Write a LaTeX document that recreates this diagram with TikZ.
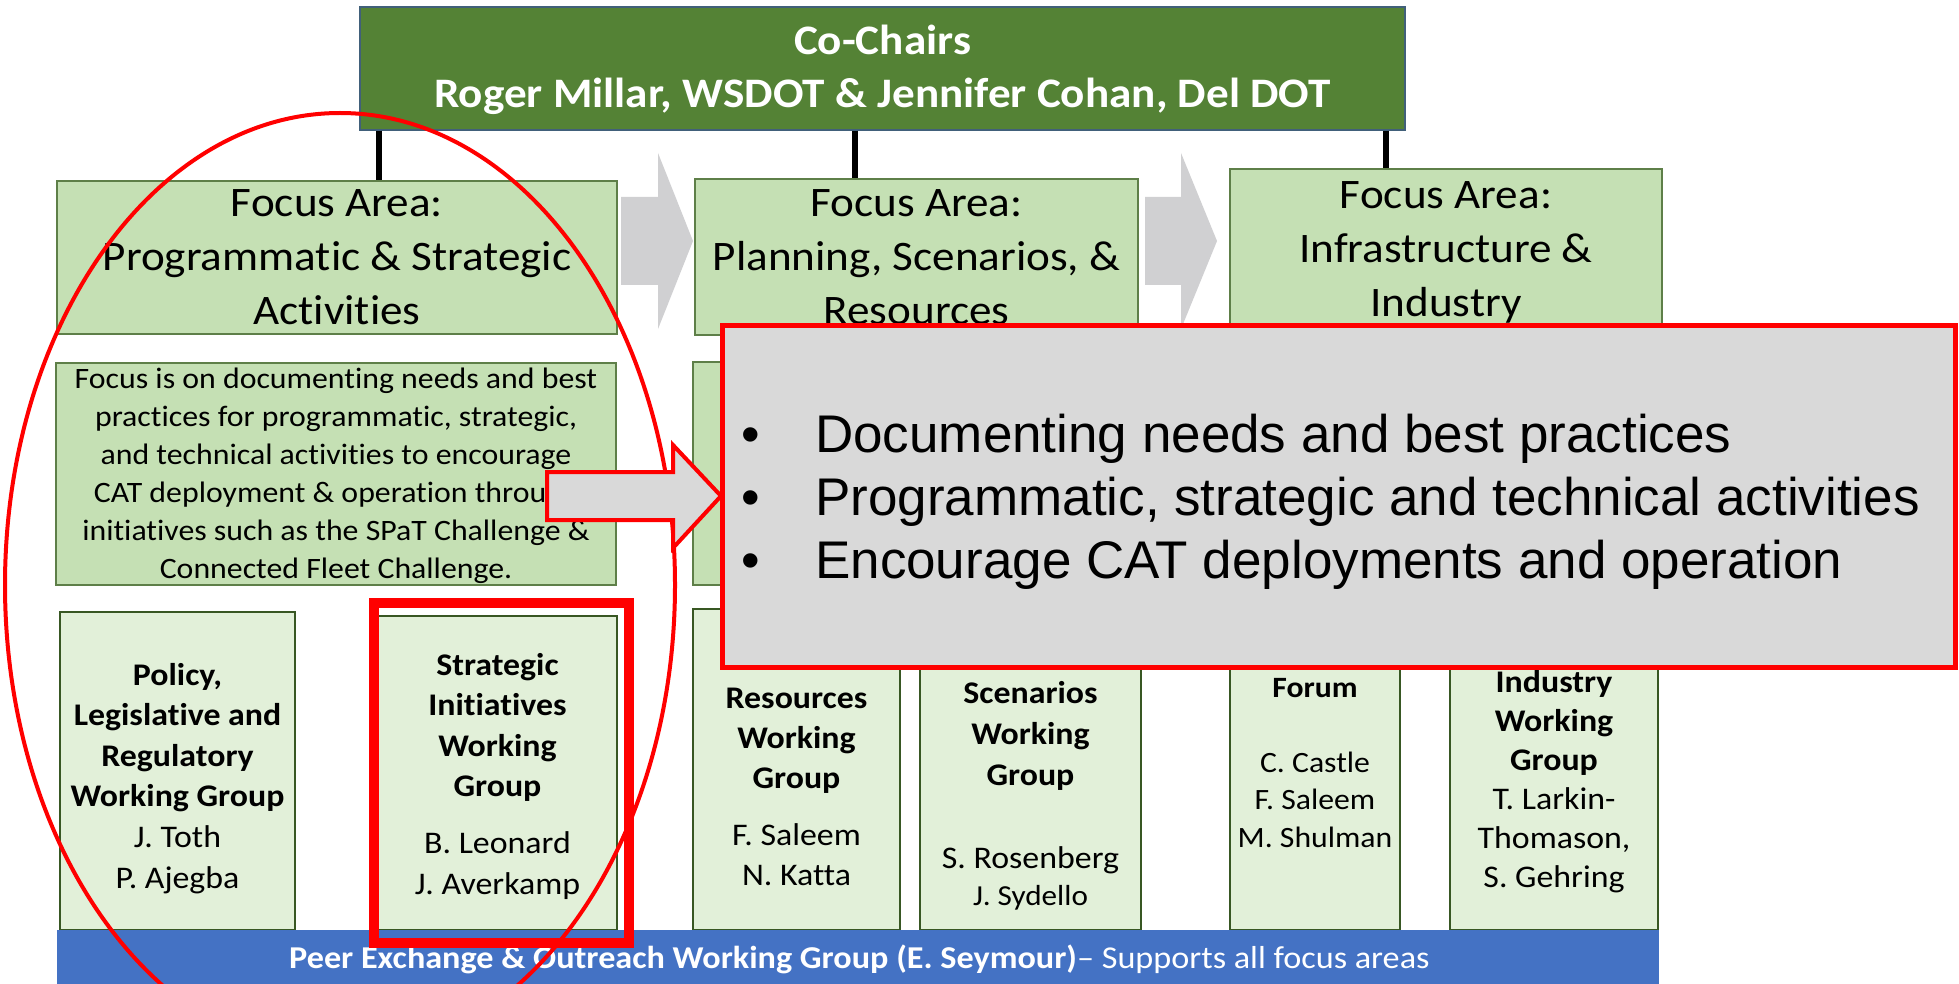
\documentclass[tikz,border=0pt]{standalone}
\usepackage{fontspec}
\setmainfont{Carlito}[FakeStretch=1.075, RawFeature={-liga}]
\newfontfamily\arialf{Liberation Sans}
\usetikzlibrary{calc}
\definecolor{cogreen}{HTML}{548235}
\definecolor{coborder}{HTML}{41607A}
\definecolor{fagreen}{HTML}{C5E0B4}
\definecolor{faborder}{HTML}{5E7F48}
\definecolor{wggreen}{HTML}{E2F0D9}
\definecolor{wgborder}{HTML}{385723}
\definecolor{barblue}{HTML}{4472C4}
\definecolor{calloutgray}{HTML}{D9D9D9}
\definecolor{chevgray}{HTML}{D0D0D2}
\definecolor{hlred}{HTML}{FF0000}
\newcommand\mylines[1]{\begin{tabular}[t]{@{}c@{}}#1\end{tabular}}
\newcommand\fs[2]{\fontsize{#1}{#2}\selectfont}
\begin{document}
\begin{tikzpicture}[x=1pt,y=-1pt,
  cobox/.style={draw=coborder, line width=1.5pt, fill=cogreen, inner sep=0},
  fabox/.style={draw=faborder, line width=1.5pt, fill=fagreen, inner sep=0},
  wgbox/.style={draw=wgborder, line width=2.5pt, fill=wggreen, inner sep=0},
  txt/.style={inner sep=0, anchor=base},
  conn/.style={line width=6pt, black},
  chev/.style={fill=chevgray, draw=none},
  hlline/.style={draw=hlred},
]
\useasboundingbox (0,0) rectangle (1959,984);
\fill[white] (0,0) rectangle (1959,984);

% Co-chairs
\node[cobox, minimum width=1045pt, minimum height=123pt] (cochair) at (882.5,68.5) {};
\node[txt, text=white, font=\bfseries\fs{42}{53}] (cochairtxt) at (882.5,55)
  {\mylines{Co-Chairs\\Roger Millar, WSDOT \& Jennifer Cohan, Del DOT}};

% chevrons
\fill[chev] (621,197) -- (658,197) -- (658,153) -- (693,241) -- (658,329) -- (658,285) -- (621,285) -- cycle;
\fill[chev] (1145,197) -- (1181,197) -- (1181,153) -- (1217,241) -- (1181,329) -- (1181,285) -- (1145,285) -- cycle;

% focus areas
\node[fabox, minimum width=560pt, minimum height=153pt] (fa1) at (337,257.5) {};
\node[txt, font=\fs{42}{54}] (fa1txt) at (337,217) {\mylines{Focus Area:\\Programmatic \& Strategic\\Activities}};
\node[fabox, minimum width=443pt, minimum height=156pt] (fa2) at (916.5,257) {};
\node[txt, font=\fs{42}{54}] (fa2txt) at (916.5,217) {\mylines{Focus Area:\\Planning, Scenarios, \&\\Resources}};
\node[fabox, minimum width=432pt, minimum height=162pt] (fa3) at (1446,250) {};
\node[txt, font=\fs{42}{54}] (fa3txt) at (1446,209) {\mylines{Focus Area:\\Infrastructure \&\\Industry}};

% connectors
\draw[conn] (cochair.south -| 379,0) -- (fa1.north -| 379,0);
\draw[conn] (cochair.south -| 855,0) -- (fa2.north -| 855,0);
\draw[conn] (cochair.south -| 1386,0) -- (fa3.north -| 1386,0);

% descriptions
\node[fabox, minimum width=560pt, minimum height=222pt] (d1) at (336,474) {};
\node[txt, font=\fs{29.6}{38}] (d1txt) at (336,388) {\mylines{Focus is on documenting needs and best\\practices for programmatic, strategic,\\and technical activities to encourage\\CAT deployment \& operation through\\initiatives such as the SPaT Challenge \&\\Connected Fleet Challenge.}};
\node[fabox, minimum width=445pt, minimum height=223pt] (d2) at (915.5,473.5) {};

% working groups
\node[wgbox, minimum width=235pt, minimum height=318pt] (wgA) at (177.5,771) {};
\node[txt, font=\fs{31.5}{40.6}] (wgAtxt) at (177.5,685) {\mylines{\textbf{Policy,}\\\textbf{Legislative and}\\\textbf{Regulatory}\\\textbf{Working Group}\\J. Toth\\P. Ajegba}};
\node[wgbox, minimum width=239pt, minimum height=314pt] (wgB) at (497.5,773) {};
\node[txt, font=\fs{31.5}{40.5}] (wgBtxt) at (497.5,675) {\mylines{\textbf{Strategic}\\\textbf{Initiatives}\\\textbf{Working}\\\textbf{Group}\\[16.5pt]B. Leonard\\J. Averkamp}};
\node[wgbox, minimum width=207pt, minimum height=321pt] (wgC) at (796.5,769.5) {};
\node[txt, font=\fs{31.5}{40}] (wgCtxt) at (796.5,708) {\mylines{\textbf{Resources}\\\textbf{Working}\\\textbf{Group}\\[17pt]F. Saleem\\N. Katta}};
\node[wgbox, minimum width=221pt, minimum height=321pt] (wgD) at (1030.5,769.5) {};
\node[txt, font=\fs{31.5}{41}] (wgDtxt) at (1030.5,703) {\mylines{\textbf{Scenarios}\\\textbf{Working}\\\textbf{Group}\\[42pt]S. Rosenberg\\[-4pt]{\fs{29}{37}J. Sydello}}};
\node[wgbox, minimum width=170pt, minimum height=321pt] (wgE) at (1315,769.5) {};
\node[txt, font=\fs{29.5}{37.5}] (wgEtxt) at (1315,697) {\mylines{\textbf{Forum}\\[37.5pt]C. Castle\\F. Saleem\\M. Shulman}};
\node[wgbox, minimum width=208pt, minimum height=321pt] (wgF) at (1554,769.5) {};
\node[txt, font=\fs{31.5}{39}] (wgFtxt) at (1554,692) {\mylines{\textbf{Industry}\\\textbf{Working}\\\textbf{Group}\\T. Larkin-\\Thomason,\\S. Gehring}};

% bottom bar
\node[fill=barblue, inner sep=0, minimum width=1602pt, minimum height=54pt] (bar) at (858,957) {};
\node[txt, anchor=base west, text=white, font=\fs{31.8}{34}] (bartxt) at (289,968) {\textbf{Peer Exchange \& Outreach Working Group (E. Seymour)}– Supports all focus areas};

% highlights
\draw[hlline, line width=4pt] (340,585) ellipse [x radius=335, y radius=472];
\node[draw=hlred, line width=10pt, inner sep=0, minimum width=255pt, minimum height=340pt] (hlrect) at (501.5,773) {};

% callout
\coordinate (tip) at (721,496);
\draw[hlline, line width=4pt, fill=calloutgray, line join=miter] (547,472) -- (673,472) -- (673,445) -- (tip) -- (673,548) -- (673,520) -- (547,520) -- cycle;
\node[draw=hlred, line width=5pt, fill=calloutgray, inner sep=0, minimum width=1233pt, minimum height=342pt] (callout) at (1338.5,496) {};
\node[txt, anchor=base west, font=\arialf\fs{53}{63}] (callouttxt) at (741,452) {\begin{tabular}[t]{@{}l@{}}\makebox[74pt][l]{•}Documenting needs and best practices\\\makebox[74pt][l]{•}Programmatic, strategic and technical activities\\\makebox[74pt][l]{•}Encourage CAT deployments and operation\end{tabular}};
\end{tikzpicture}
\end{document}
